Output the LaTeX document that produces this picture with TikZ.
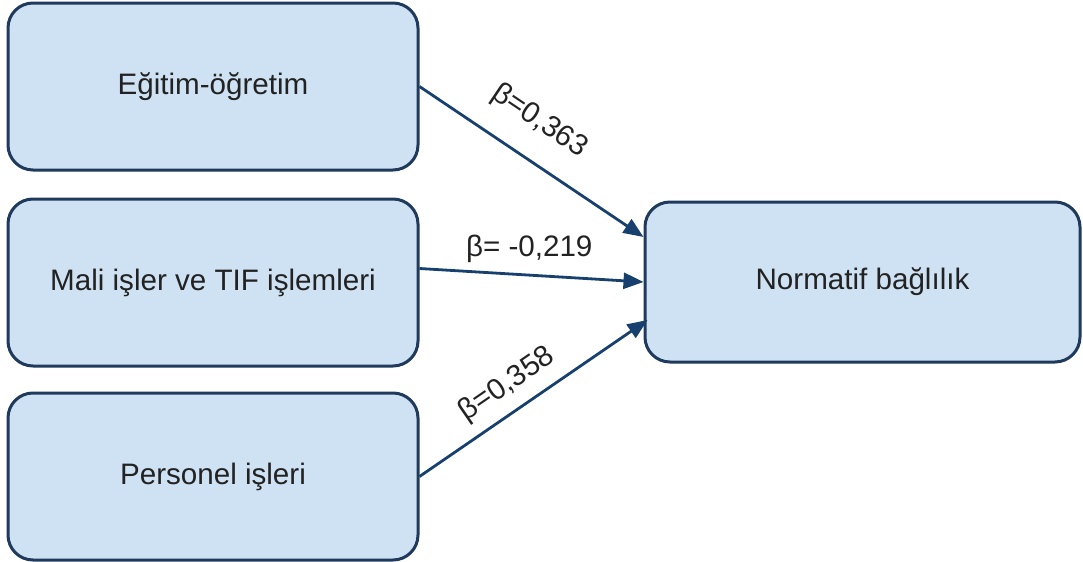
\documentclass[tikz,border=0pt]{standalone}
\usepackage{fontspec}
\setmainfont{Liberation Sans}
\usepackage{xcolor}
\usepackage{tikz}
\usetikzlibrary{arrows.meta,positioning}
\definecolor{ink}{HTML}{222222}
\definecolor{frame}{HTML}{1F3A5C}
\definecolor{sky}{HTML}{CFE2F3}
\definecolor{navy}{HTML}{17406F}

\begin{document}
\begin{tikzpicture}[x=0.5pt,y=-0.5pt,
  factor/.style={draw=frame,line width=1.5pt,fill=sky,rounded corners=12.5pt,
    minimum width=205pt,minimum height=83.5pt,text=ink,
    font=\fontsize{14.8}{18}\selectfont},
  effect/.style={-{Triangle[length=10pt,width=8pt]},draw=navy,line width=1.4pt},
  coef/.style={text=ink,inner sep=0pt,font=\fontsize{14.8}{18}\selectfont}]
\useasboundingbox (0,0) rectangle (1083,562);
\node[factor] (egitim) at (213,86.5) {Eğitim-öğretim};
\node[factor] (mali) at (213,282.5) {Mali işler ve TIF işlemleri};
\node[factor] (personel) at (213,476.5) {Personel işleri};
\node[factor,minimum width=217.5pt,minimum height=80pt] (norm) at (862.5,282) {Normatif bağlılık};
\draw[effect] (egitim.east) -- node[coef,sloped,above=11.5pt,pos=0.44] {β=0,363} ([yshift=22.5pt]norm.west);
\draw[effect] ([yshift=7pt]mali.east) -- node[coef,above=5.5pt,pos=0.49] {β= -0,219} (norm.west);
\draw[effect] (personel.east) -- node[coef,sloped,above=5.5pt,pos=0.45] {β=0,358} ([yshift=-19pt,xshift=2pt]norm.west);
\end{tikzpicture}
\end{document}
